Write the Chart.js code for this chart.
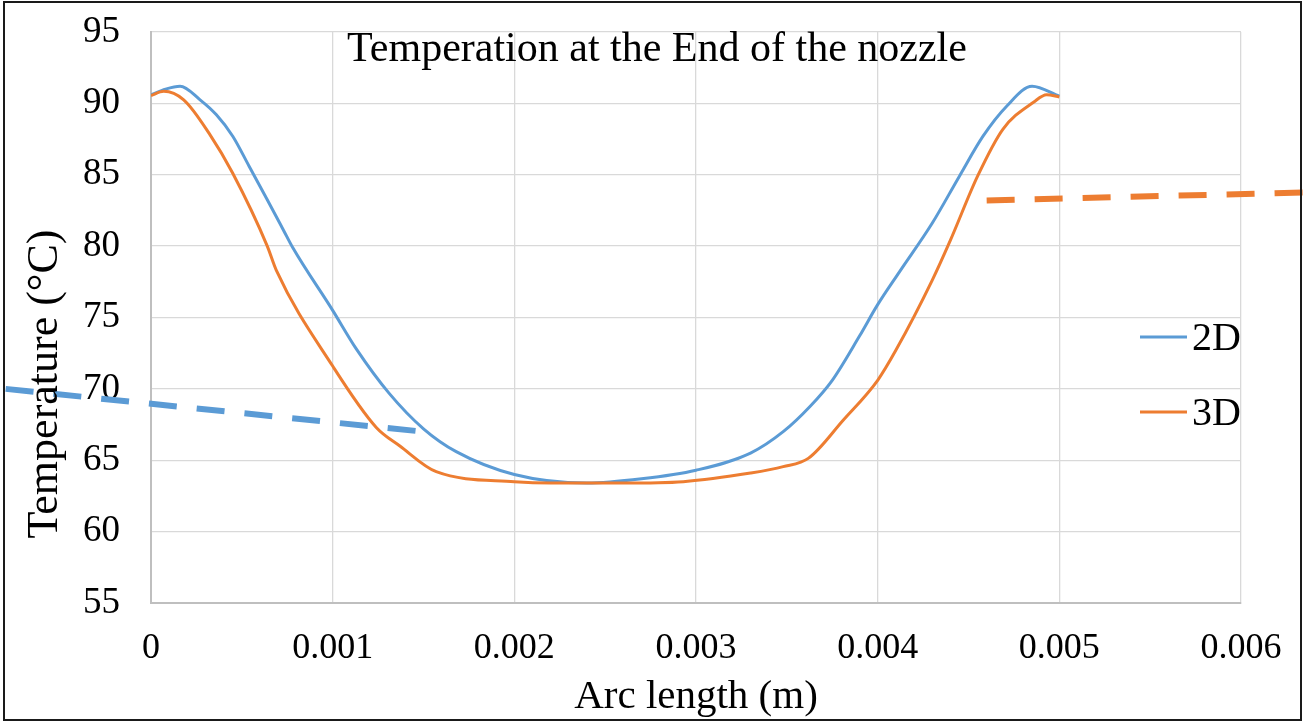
<!DOCTYPE html>
<html>
<head>
<meta charset="utf-8">
<script src="https://cdn.jsdelivr.net/npm/chart.js@4.4.1/dist/chart.umd.min.js"></script>
<style>
  html, body { margin: 0; padding: 0; background: #ffffff; }
  #chart { display: block; }
</style>
</head>
<body>
<canvas id="chart" width="1304" height="723"></canvas>
<script>

/**
 *
 * Data
 *
 */

const TITLE = 'Temperation at the End of the nozzle';
const X_TITLE = 'Arc length (m)';
const Y_TITLE = 'Temperature (°C)';

const SERIES_LABELS = ['2D', '3D'];

// 2D curve
const ARC_2D = [0, 0.00008, 0.00016, 0.00027, 0.00036, 0.00045, 0.00054, 0.00064, 0.00073, 0.00078,
  0.001, 0.00113, 0.00131, 0.0015, 0.00168, 0.002, 0.0024, 0.0027, 0.003, 0.0033,
  0.00348, 0.00363, 0.00375, 0.0039, 0.004, 0.00412, 0.0043, 0.00445, 0.00458, 0.00471,
  0.00485, 0.005];
const TEMP_2D = [90.6, 91.0, 91.2, 90.25, 89.2, 87.7, 85.6, 83.25, 81.1, 79.9,
  75.5, 72.8, 69.7, 67.2, 65.6, 64.0, 63.4, 63.7, 64.3, 65.5,
  67.0, 68.8, 70.6, 73.7, 75.9, 78.2, 81.6, 84.9, 87.7, 89.8,
  91.2, 90.5];

// 3D curve
const ARC_3D = [0, 0.00007, 0.00018, 0.00032, 0.00045, 0.00064, 0.00069, 0.001, 0.00124, 0.00137,
  0.00157, 0.002, 0.0022, 0.0026, 0.00293, 0.0033, 0.00348, 0.00362, 0.00381, 0.004,
  0.0041, 0.0043, 0.0044, 0.00455, 0.00469, 0.00486, 0.00493, 0.005];
const TEMP_3D = [90.55, 90.85, 90.25, 87.9, 85.1, 80.0, 78.3, 71.6, 67.3, 66.0,
  64.2, 63.5, 63.4, 63.4, 63.5, 64.1, 64.55, 65.15, 67.8, 70.6,
  72.7, 77.6, 80.4, 84.9, 88.2, 90.1, 90.6, 90.45];

// dashed trend lines (they run past the plot area)
const TREND_2D_X = [-0.0008, 0.0015];
const TREND_2D_Y = [70.0, 67.0];
const TREND_3D_X = [0.0046, 0.00635];
const TREND_3D_Y = [83.2, 83.76];

// axes
const X_MIN = 0, X_MAX = 0.006, X_STEP = 0.001;
const Y_MIN = 55, Y_MAX = 95, Y_STEP = 5;

const BLUE = '#5b9bd5';
const ORANGE = '#ed7d31';
const SERIF = "'Liberation Serif', 'Times New Roman', serif";

const toPoints = (xs, ys) => xs.map((x, i) => ({ x: x, y: ys[i] }));

/**
 *
 * Plugins
 *
 */

// white page + outer frame
const frame = {
  id: 'frame',
  beforeDraw(chart) {
    let ctx = chart.ctx;
    ctx.save();
    ctx.fillStyle = '#ffffff';
    ctx.fillRect(0, 0, chart.width, chart.height);
    ctx.restore();
  },
  afterDraw(chart) {
    let ctx = chart.ctx;
    ctx.save();
    ctx.strokeStyle = '#1a1a1a';
    ctx.lineWidth = 2;
    ctx.strokeRect(4, 2, chart.width - 7, chart.height - 5);
    ctx.restore();
  }
};

// title, axis titles and the legend at the right
const texts = {
  id: 'texts',
  afterDatasetsDraw(chart) {
    let ctx = chart.ctx;
    let area = chart.chartArea;
    ctx.save();
    ctx.fillStyle = '#000000';

    // Title
    ctx.font = '42px ' + SERIF;
    ctx.textAlign = 'center';
    ctx.textBaseline = 'alphabetic';
    ctx.fillText(TITLE, 657, 61);

    // X axis title
    ctx.font = '41px ' + SERIF;
    ctx.fillText(X_TITLE, (area.left + area.right) / 2, 708);

    // Y axis title
    ctx.save();
    ctx.translate(57, 384);
    ctx.rotate(-Math.PI / 2);
    ctx.font = '44px ' + SERIF;
    ctx.fillText(Y_TITLE, 0, 0);
    ctx.restore();

    // Legend
    ctx.font = '40px ' + SERIF;
    ctx.textAlign = 'left';
    SERIES_LABELS.forEach((name, i) => {
      let ds = chart.data.datasets.find(d => d.label === name);
      let y = 337 + i * 75;
      ctx.strokeStyle = ds.borderColor;
      ctx.lineWidth = 3;
      ctx.beginPath();
      ctx.moveTo(1140, y);
      ctx.lineTo(1187, y);
      ctx.stroke();
      ctx.fillText(name, 1192, y + 13);
    });

    ctx.restore();
  }
};

/**
 *
 * Chart
 *
 */

let canvas_object = document.getElementById('chart');

new Chart(canvas_object.getContext('2d'), {
  type: 'line',
  data: {
    datasets: [
      {
        label: 'trend 2D',
        data: toPoints(TREND_2D_X, TREND_2D_Y),
        borderColor: BLUE,
        borderWidth: 6,
        borderDash: [28, 20],
        pointRadius: 0,
        clip: false,
        order: 0
      },
      {
        label: 'trend 3D',
        data: toPoints(TREND_3D_X, TREND_3D_Y),
        borderColor: ORANGE,
        borderWidth: 6,
        borderDash: [28, 20],
        pointRadius: 0,
        clip: false,
        order: 0
      },
      {
        label: SERIES_LABELS[1],
        data: toPoints(ARC_3D, TEMP_3D),
        borderColor: ORANGE,
        borderWidth: 3,
        pointRadius: 0,
        cubicInterpolationMode: 'monotone',
        order: 1
      },
      {
        label: SERIES_LABELS[0],
        data: toPoints(ARC_2D, TEMP_2D),
        borderColor: BLUE,
        borderWidth: 3,
        pointRadius: 0,
        cubicInterpolationMode: 'monotone',
        order: 2
      }
    ]
  },
  options: {
    responsive: false,
    animation: false,
    devicePixelRatio: 1,
    layout: { padding: { left: 0, right: 63, top: 32, bottom: 0 } },
    plugins: {
      legend: { display: false },
      title: { display: false },
      tooltip: { enabled: false }
    },
    scales: {
      x: {
        type: 'linear',
        min: X_MIN,
        max: X_MAX,
        afterFit: s => { s.height = 120; s.paddingLeft = 0; s.paddingRight = 0; },
        afterBuildTicks: s => {
          s.ticks = [];
          for (let i = 0; i <= Math.round((X_MAX - X_MIN) / X_STEP); i++) {
            s.ticks.push({ value: +(X_MIN + i * X_STEP).toFixed(3) });
          }
        },
        ticks: {
          color: '#000000',
          font: { family: SERIF, size: 36 },
          padding: 24,
          maxRotation: 0,
          autoSkip: false,
          callback: v => String(+Number(v).toFixed(3))
        },
        grid: { color: '#d9d9d9', lineWidth: 1.3, drawTicks: false },
        border: { color: '#bfbfbf', width: 2 }
      },
      y: {
        type: 'linear',
        min: Y_MIN,
        max: Y_MAX,
        afterFit: s => { s.width = 151; s.paddingTop = 0; s.paddingBottom = 0; },
        ticks: {
          stepSize: Y_STEP,
          color: '#000000',
          font: { family: SERIF, size: 37 },
          padding: 31
        },
        grid: { color: '#d9d9d9', lineWidth: 1.3, drawTicks: false },
        border: { color: '#bfbfbf', width: 2 }
      }
    }
  },
  plugins: [frame, texts]
});

</script>
</body>
</html>
